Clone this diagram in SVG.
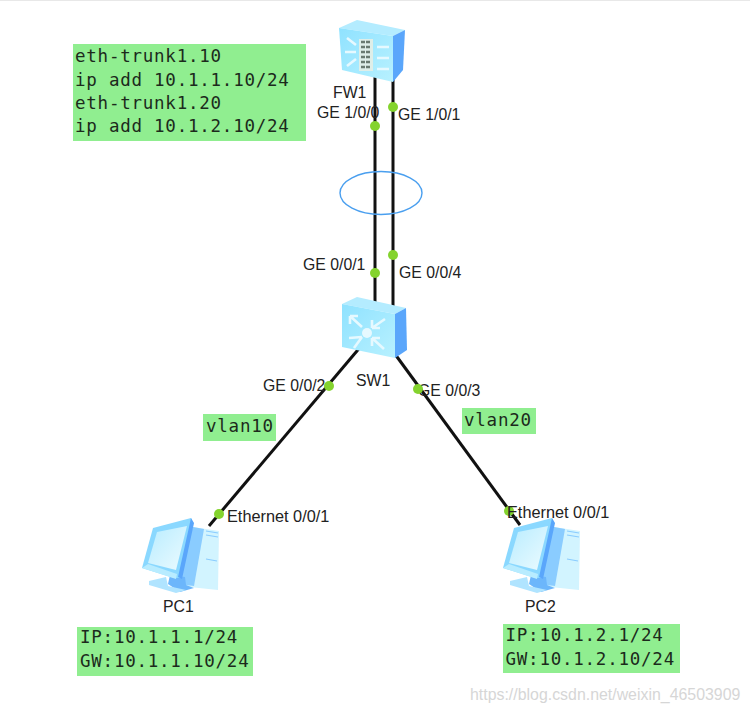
<svg xmlns="http://www.w3.org/2000/svg" width="750" height="712" viewBox="0 0 750 712">
<style>
.lbl{font-family:"Liberation Sans",Arial,sans-serif;font-size:15.8px;fill:#222}
.wide{font-size:16.3px}
.note{font-family:"DejaVu Sans Mono","Liberation Mono",monospace;font-size:17.5px;letter-spacing:0.76px;fill:#1c2a1c}
.box{fill:#90ee90}
.link{stroke:#111;stroke-width:3;fill:none}
.dot{fill:#84d32e}
.arr{fill:none;stroke:#e6f9ff;stroke-width:2.600}
</style>
<defs>
<linearGradient id="face" x1="0" y1="0" x2="1" y2="1"><stop offset="0" stop-color="#8fe2ff"/><stop offset="1" stop-color="#b8f1ff"/></linearGradient>
<linearGradient id="screen" x1="0" y1="0" x2="1" y2="1"><stop offset="0" stop-color="#b8ecff"/><stop offset="1" stop-color="#ecfbff"/></linearGradient>
<g id="pc">
<path d="M193 527L219 531L218 590L180 586L181 560Z" fill="#d2f4ff"/>
<path d="M193 527L204 529L194 586L178 584L180 560Z" fill="#8accff"/>
<path d="M206 531L218 533M206 535L218 537M206 559L217 561" stroke="#8accff" stroke-width="1.200" fill="none"/>
<path d="M170 575L168 584L180 592L194 588L186 585L185 577Z" fill="#6cb6fb"/>
<path d="M149 581L166 577L168 586L186 590L176 593L149 585Z" fill="#b0e4ff"/>
<path d="M142 568L153 528L191 518L193 524L181 578L174 578Z" fill="#8ad8ff"/>
<path d="M191 518L194 523L182 579L178 577Z" fill="#5aa6fb"/>
<path d="M148 563L157 532L187 526L176 570Z" fill="url(#screen)"/>
<path d="M142 568L176 579L177 574L148 564Z" fill="#b8ecff"/>
</g>
</defs>
<rect width="750" height="712" fill="#fff"/>
<rect x="0" y="0" width="750" height="1" fill="#e8e8e8"/>

<g id="connectors">
<path class="link" d="M375 76V308"/>
<path class="link" d="M393 78V310"/>
<path class="link" d="M362 345L209 526"/>
<path class="link" d="M392 350L520 525"/>
<ellipse cx="381" cy="193" rx="41" ry="21.500" fill="none" stroke="#4a9fef" stroke-width="1.400"/>
</g>

<g id="fw1">
<path d="M339 28L357 20L405 30L393 36Z" fill="#b4ecff"/>
<path d="M339 28L393 36V82L342 70Z" fill="url(#face)"/>
<path d="M393 36L405 30L403 70L393 82Z" fill="#5aa6fb"/>
<rect x="359" y="39" width="14" height="32" fill="#dfeee8"/>
<path d="M361 42H371M361 47H371M361 52H371M361 57H371M361 62H371M361 67H371" stroke="#6a7a70" stroke-width="2.500" stroke-dasharray="4 1" fill="none"/>
<path class="arr" d="M347 38L356 45M345 52H356M347 66L356 59M377 47H389M377 58H389M377 69H389"/>
<text class="lbl" x="333" y="98">FW1</text>
<text class="lbl" x="317" y="118">GE 1/0/0</text>
<text class="lbl" x="398" y="119.500">GE 1/0/1</text>
<circle class="dot" cx="375" cy="126" r="5"/>
<circle class="dot" cx="393" cy="107" r="5"/>
</g>

<g id="sw1">
<path d="M342 304L357 297L406 308L395 314Z" fill="#b4ecff"/>
<path d="M342 304L395 314V358L342 347Z" fill="url(#face)"/>
<path d="M395 314L406 308L407 350L395 358Z" fill="#5aa6fb"/>
<circle cx="367" cy="333" r="5" fill="#e6f9ff"/>
<path class="arr" d="M350 316L362 327M350 316H358M350 316V324M385 319L372 328M372 328H380M372 328V320M349 338L362 337M362 337L354 348M384 349L372 338M372 338H380M372 338V346"/>
<text class="lbl" x="356" y="386">SW1</text>
<text class="lbl" x="303" y="269.500">GE 0/0/1</text>
<text class="lbl" x="399" y="277.500">GE 0/0/4</text>
<text class="lbl" x="263" y="391">GE 0/0/2</text>
<text class="lbl" x="418" y="395.500">GE 0/0/3</text>
<circle class="dot" cx="375" cy="273" r="5"/>
<circle class="dot" cx="393" cy="255" r="5"/>
<circle class="dot" cx="329" cy="386" r="5"/>
<circle class="dot" cx="418" cy="389" r="5"/>
</g>

<g id="pc1">
<use href="#pc"/>
<text class="lbl" x="163" y="612">PC1</text>
<text class="lbl wide" x="227" y="522">Ethernet 0/0/1</text>
<circle class="dot" cx="219" cy="514" r="5"/>
</g>

<g id="pc2">
<circle class="dot" cx="509" cy="511" r="5"/>
<use href="#pc" x="361" y="0"/>
<text class="lbl" x="525" y="612">PC2</text>
<text class="lbl wide" x="507" y="518">Ethernet 0/0/1</text>
</g>

<g id="note-fw">
<rect class="box" x="73" y="44" width="233" height="97"/>
<text class="note" x="75" y="62">eth-trunk1.10</text>
<text class="note" x="75" y="85.500">ip add 10.1.1.10/24</text>
<text class="note" x="75" y="108.500">eth-trunk1.20</text>
<text class="note" x="75" y="132">ip add 10.1.2.10/24</text>
</g>
<g id="note-vlan10">
<rect class="box" x="203" y="414" width="73" height="27"/>
<text class="note" x="206" y="432">vlan10</text>
</g>
<g id="note-vlan20">
<rect class="box" x="462" y="408" width="74" height="26"/>
<text class="note" x="464" y="426">vlan20</text>
</g>
<g id="note-pc1">
<rect class="box" x="77" y="627" width="176" height="49"/>
<text class="note" x="80" y="643">IP:10.1.1.1/24</text>
<text class="note" x="80" y="667">GW:10.1.1.10/24</text>
</g>
<g id="note-pc2">
<rect class="box" x="503" y="624" width="177" height="49"/>
<text class="note" x="505.500" y="641">IP:10.1.2.1/24</text>
<text class="note" x="505.500" y="664.500">GW:10.1.2.10/24</text>
</g>
<text x="470" y="700" font-family="'Liberation Sans',Arial,sans-serif" font-size="15.900" fill="#d6d6d6">https://blog.csdn.net/weixin_46503909</text>
</svg>
